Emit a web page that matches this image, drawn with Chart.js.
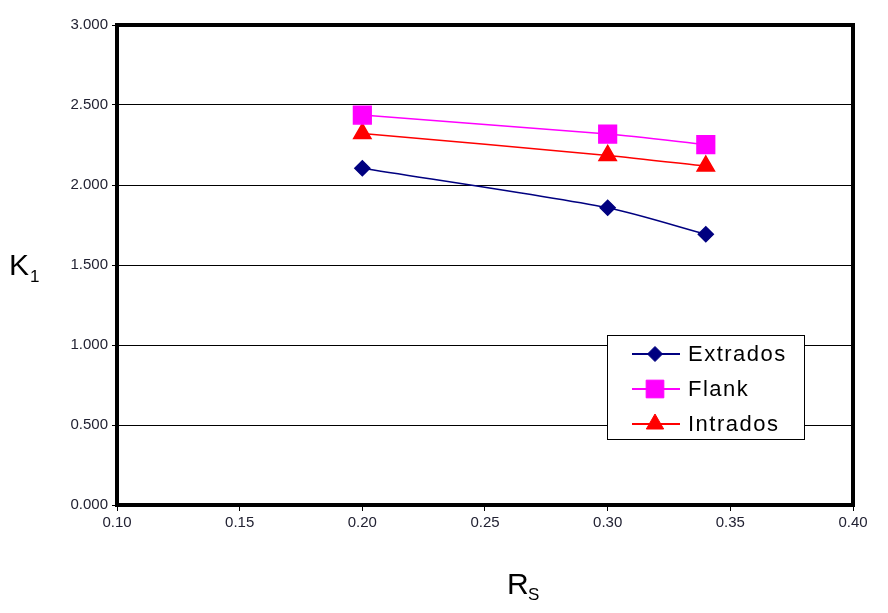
<!DOCTYPE html>
<html>
<head>
<meta charset="utf-8">
<script src="https://cdn.jsdelivr.net/npm/chart.js@4"></script>
<style>
  html, body { margin: 0; padding: 0; background: #fff; }
  #wrap { width: 888px; height: 613px; }
</style>
</head>
<body>
<div id="wrap"><canvas id="c" width="888" height="613"></canvas></div>
<script>
// values
const rsValues = [0.20, 0.30, 0.34];
const extrados = [2.105, 1.858, 1.692];
const flank = [2.437, 2.318, 2.252];
const intrados = [2.322, 2.185, 2.118];
const seriesNames = ['Extrados', 'Flank', 'Intrados'];

const toPoints = (ys) => rsValues.map((x, i) => ({ x: x, y: ys[i] }));

// plot frame + legend box + axis titles with subscripts
const decorPlugin = {
    id: 'decor',
    afterDatasetsDraw(chart) {
        const ctx = chart.ctx;
        const a = chart.chartArea;
        ctx.save();
        ctx.strokeStyle = '#000';
        ctx.lineWidth = 4;
        ctx.strokeRect(a.left, a.top, a.right - a.left, a.bottom - a.top);

        // legend
        ctx.fillStyle = '#fff';
        ctx.fillRect(607, 335, 198, 105);
        ctx.lineWidth = 1;
        ctx.strokeRect(607.5, 335.5, 197, 104);
        const rows = [354, 389, 424];
        chart.data.datasets.forEach((ds, i) => {
            const y = rows[i];
            ctx.strokeStyle = ds.borderColor;
            ctx.lineWidth = 2;
            ctx.beginPath();
            ctx.moveTo(632, y);
            ctx.lineTo(680, y);
            ctx.stroke();
            ctx.fillStyle = ds.pointBackgroundColor;
            ctx.strokeStyle = ds.pointBackgroundColor;
            ctx.lineWidth = 1;
            Chart.helpers.drawPoint(ctx, { pointStyle: ds.pointStyle, radius: ds.pointRadius, borderWidth: 1 }, 655, y);
            ctx.fillStyle = '#000';
            ctx.font = '22px "Liberation Sans", Arial, sans-serif';
            ctx.letterSpacing = '1.5px';
            ctx.textBaseline = 'middle';
            ctx.textAlign = 'left';
            ctx.fillText(ds.label, 688, y + 1);
            ctx.letterSpacing = '0px';
        });

        // axis titles
        ctx.fillStyle = '#000';
        ctx.textBaseline = 'alphabetic';
        ctx.font = '30px "Liberation Sans", Arial, sans-serif';
        ctx.fillText('K', 9, 275);
        ctx.font = '17px "Liberation Sans", Arial, sans-serif';
        ctx.fillText('1', 30, 282);
        ctx.font = '30px "Liberation Sans", Arial, sans-serif';
        ctx.fillText('R', 507, 594);
        ctx.font = '17px "Liberation Sans", Arial, sans-serif';
        ctx.fillText('S', 528, 600);
        ctx.restore();
    }
};

new Chart(document.getElementById('c'), {
    type: 'line',
    data: {
        datasets: [{
            label: seriesNames[0],
            data: toPoints(extrados),
            borderColor: '#000080',
            backgroundColor: '#000080',
            pointBackgroundColor: '#000080',
            pointBorderColor: '#000080',
            pointStyle: 'rectRot',
            pointRadius: 7.5,
            borderWidth: 1.5,
            tension: 0.25
        }, {
            label: seriesNames[1],
            data: toPoints(flank),
            borderColor: '#FF00FF',
            backgroundColor: '#FF00FF',
            pointBackgroundColor: '#FF00FF',
            pointBorderColor: '#FF00FF',
            pointStyle: 'rect',
            pointRadius: 12.5,
            borderWidth: 1.5,
            tension: 0.25
        }, {
            label: seriesNames[2],
            data: toPoints(intrados),
            borderColor: '#FF0000',
            backgroundColor: '#FF0000',
            pointBackgroundColor: '#FF0000',
            pointBorderColor: '#FF0000',
            pointStyle: 'triangle',
            pointRadius: 10,
            borderWidth: 1.5,
            tension: 0.25
        }]
    },
    options: {
        responsive: false,
        animation: false,
        layout: { padding: { left: 0, top: 25, right: 35, bottom: 0 } },
        plugins: {
            legend: { display: false },
            tooltip: { enabled: false }
        },
        scales: {
            x: {
                type: 'linear',
                min: 0.1,
                max: 0.4,
                afterFit: (s) => { s.height = 108; },
                ticks: {
                    stepSize: 0.05,
                    color: '#222233',
                    padding: 3,
                    font: { family: '"Liberation Sans", Arial, sans-serif', size: 15 },
                    callback: (v) => v.toFixed(2)
                },
                grid: { drawOnChartArea: false, color: '#000', tickLength: 6 },
                border: { color: '#000', width: 4 }
            },
            y: {
                min: 0,
                max: 3,
                afterFit: (s) => { s.width = 117; },
                ticks: {
                    stepSize: 0.5,
                    color: '#222233',
                    padding: 4,
                    font: { family: '"Liberation Sans", Arial, sans-serif', size: 15 },
                    callback: (v) => v.toFixed(3)
                },
                grid: { color: '#000', lineWidth: 1, tickLength: 5 },
                border: { color: '#000', width: 4 }
            }
        }
    },
    plugins: [decorPlugin]
});
</script>
</body>
</html>
